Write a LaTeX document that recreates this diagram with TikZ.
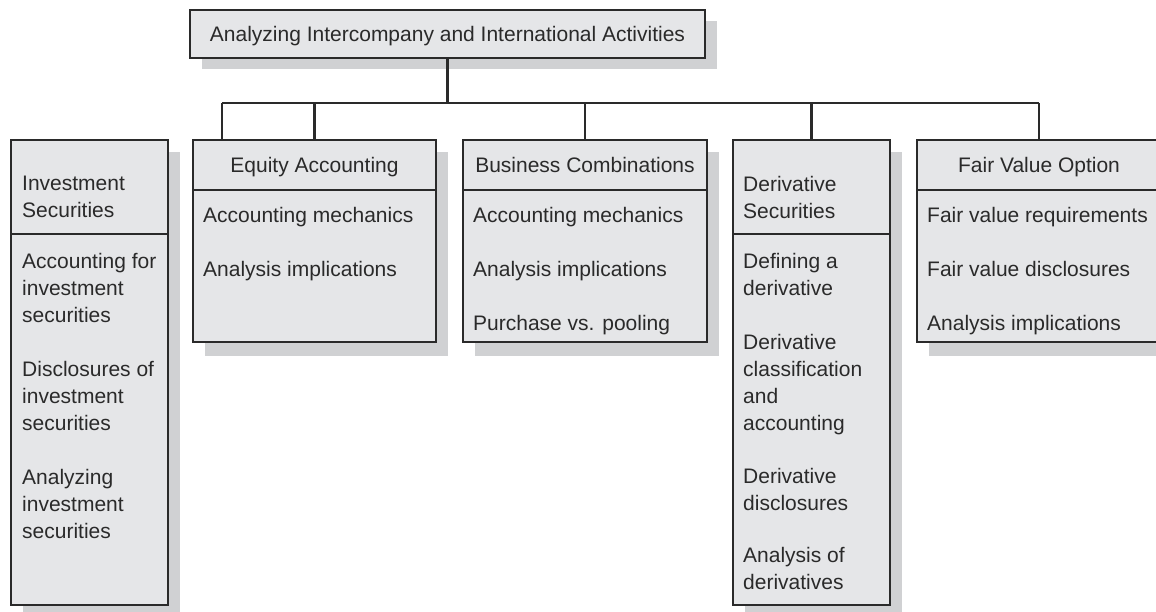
\documentclass[tikz,border=0pt]{standalone}
\usepackage{fontspec}
\setmainfont{Liberation Sans}
\usetikzlibrary{positioning,calc,backgrounds}
\definecolor{boxgray}{HTML}{E5E6E8}
\definecolor{shadegray}{HTML}{D0D1D3}
\definecolor{inkgray}{HTML}{2A2A2A}
\tikzset{
  box/.style={draw=inkgray, line width=2.4pt, fill=boxgray, rectangle, inner sep=0pt, outer sep=0pt, anchor=north west},
  headbox/.style={box, font=\fontsize{21}{27}\selectfont, text=inkgray, text height=15pt, text depth=0pt},
  conn/.style={draw=inkgray, line width=2.2pt},
  txt/.style={inner sep=0pt, text=inkgray, align=left, font=\fontsize{21}{27}\selectfont, anchor=north west},
}

\begin{document}
\begin{tikzpicture}[x=1pt,y=-1pt]
  \useasboundingbox (0,0) rectangle (1156,612);
  % top box
  \node[headbox, minimum width=515pt, minimum height=48pt] (top) at (190,10) {Analyzing Intercompany and International Activities};

  % Investment Securities
  \node[box, minimum width=157pt, minimum height=94pt] (invhead) at (11,140) {};
  \node[box, minimum width=157pt, minimum height=371pt] (invbody) at (invhead.south west) {};
  \node[txt] (invtitle) at ([shift={(11,36)}]invhead.north west) {Investment\\Securities};
  \node[txt] (invitems) at ([shift={(11,19)}]invbody.north west) {Accounting for\\investment\\securities\\[27pt]Disclosures of\\investment\\securities\\[27pt]Analyzing\\investment\\securities};

  % Equity Accounting
  \node[headbox, minimum width=243pt, minimum height=50pt] (eqhead) at (193,140) {Equity Accounting};
  \node[box, minimum width=243pt, minimum height=152pt] (eqbody) at (eqhead.south west) {};
  \node[txt] (eqitems) at ([shift={(10,17)}]eqbody.north west) {Accounting mechanics\\[27pt]Analysis implications};

  % Business Combinations
  \node[headbox, minimum width=244pt, minimum height=50pt] (bushead) at (463,140) {Business Combinations};
  \node[box, minimum width=244pt, minimum height=152pt] (busbody) at (bushead.south west) {};
  \node[txt] (busitems) at ([shift={(10,17)}]busbody.north west) {Accounting mechanics\\[27pt]Analysis implications\\[27pt]Purchase vs. pooling};

  % Derivative Securities
  \node[box, minimum width=157pt, minimum height=94pt] (drvhead) at (733,140) {};
  \node[box, minimum width=157pt, minimum height=371pt] (drvbody) at (drvhead.south west) {};
  \node[txt] (drvtitle) at ([shift={(10,36)}]drvhead.north west) {Derivative\\Securities};
  \node[txt] (drvitems) at ([shift={(10,19)}]drvbody.north west) {Defining a\\derivative\\[27pt]Derivative\\classification\\and\\accounting\\[26pt]Derivative\\disclosures\\[25pt]Analysis of\\derivatives};

  % Fair Value Option
  \node[headbox, minimum width=244pt, minimum height=50pt] (fvhead) at (917,140) {Fair Value Option};
  \node[box, minimum width=244pt, minimum height=152pt] (fvbody) at (fvhead.south west) {};
  \node[txt] (fvitems) at ([shift={(10,17)}]fvbody.north west) {Fair value requirements\\[27pt]Fair value disclosures\\[27pt]Analysis implications};

  % shadows behind the boxes
  \begin{pgfonlayer}{background}
    \fill[shadegray] ([shift={(12,11)}]top.north west) rectangle ([shift={(12,11)}]top.south east);
    \foreach \b in {inv,eq,bus,drv,fv}
      \fill[shadegray] ([shift={(12,12)}]\b head.north west) rectangle ([shift={(12,14)}]\b body.south east);
  \end{pgfonlayer}

  % connectors
  \coordinate (eqleft) at ([xshift=29pt]eqhead.north west);
  \draw[conn] (top.south) -- ++(0,45) coordinate (bus);
  \draw[conn] (bus -| eqleft) -- (bus -| fvhead.north);
  \draw[conn] (bus -| eqleft) -- (eqleft);
  \foreach \n in {eqhead,bushead,drvhead,fvhead}
    \draw[conn] (bus -| \n.north) -- (\n.north);
\end{tikzpicture}
\end{document}
